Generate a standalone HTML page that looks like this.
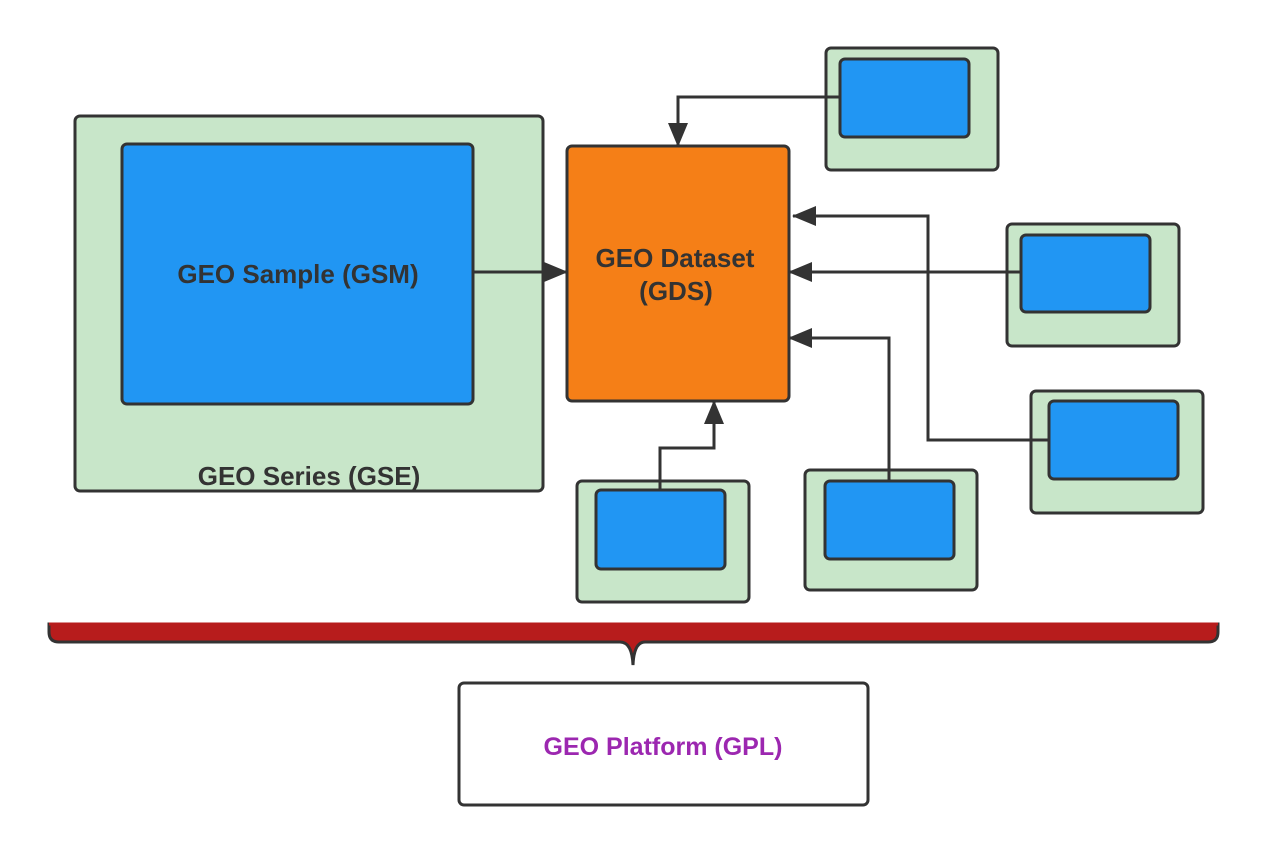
<!DOCTYPE html>
<html><head><style>body{margin:0;background:#fff}svg{display:block}</style></head><body>
<svg width="1267" height="860" viewBox="0 0 1267 860" xmlns="http://www.w3.org/2000/svg" font-family="Liberation Sans, sans-serif">
<defs>
<marker id="b" markerWidth="24" markerHeight="20" refX="23" refY="10" orient="auto" markerUnits="userSpaceOnUse" viewBox="0 0 24 20"><path d="M0,0 L24,10 L0,20z" fill="#333"/></marker></defs>
<g stroke="#333" stroke-width="3">
<rect x="75" y="116" width="468" height="375" rx="5" fill="#c8e6c9"/>
<rect x="122" y="144" width="351" height="260" rx="5" fill="#2196f3"/>
<rect x="567" y="146" width="222" height="255" rx="5" fill="#f57f17"/>
<rect x="826" y="48" width="172" height="122" rx="5" fill="#c8e6c9"/>
<rect x="840" y="59" width="129" height="78" rx="5" fill="#2196f3"/>
<rect x="1007" y="224" width="172" height="122" rx="5" fill="#c8e6c9"/>
<rect x="1021" y="235" width="129" height="77" rx="5" fill="#2196f3"/>
<rect x="1031" y="391" width="172" height="122" rx="5" fill="#c8e6c9"/>
<rect x="1049" y="401" width="129" height="78" rx="5" fill="#2196f3"/>
<rect x="577" y="481" width="172" height="121" rx="5" fill="#c8e6c9"/>
<rect x="596" y="490" width="129" height="79" rx="5" fill="#2196f3"/>
<rect x="805" y="470" width="172" height="120" rx="5" fill="#c8e6c9"/>
<rect x="825" y="481" width="129" height="78" rx="5" fill="#2196f3"/>
<rect x="459" y="683" width="409" height="122" rx="5" fill="#fff"/>
<g fill="none">
<path d="M473 272 H567" marker-end="url(#b)"/>
<path d="M840 97 H678 V146" marker-end="url(#b)"/>
<path d="M1021 272 H789" marker-end="url(#b)"/>
<path d="M1049 440 H928 V216 H793" marker-end="url(#b)"/>
<path d="M889 481 V338 H789" marker-end="url(#b)"/>
<path d="M660 490 V448 H714 V401" marker-end="url(#b)"/>
</g>
</g>
<path d="M49 624 H1218 V632 Q1218 642 1208 642 H645 Q634 642 633 665 Q632 642 620 642 H59 Q49 642 49 632 Z" fill="#b71c1c" stroke="#333" stroke-width="3"/>
<path d="M49 624 H1218" stroke="#b71c1c" stroke-width="3"/>
<g font-weight="bold" fill="#333" font-size="26" text-anchor="middle">
<text x="298" y="283">GEO Sample (GSM)</text>
<text x="309" y="485">GEO Series (GSE)</text>
<text x="675" y="267">GEO Dataset</text>
<text x="676" y="300">(GDS)</text>
<text x="663" y="755" fill="#9c27b0" font-size="25">GEO Platform (GPL)</text>
</g>
</svg>
</body></html>
